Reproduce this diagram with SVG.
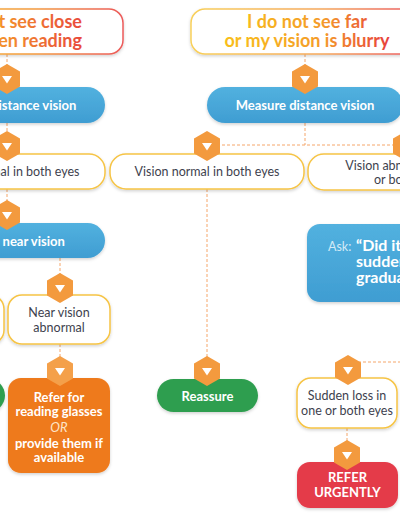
<svg xmlns="http://www.w3.org/2000/svg" width="400" height="516" viewBox="0 0 400 516">
<defs>
  <filter id="sh" x="-20%" y="-20%" width="140%" height="150%">
    <feDropShadow dx="0" dy="1.5" stdDeviation="1.5" flood-color="#000" flood-opacity="0.18"/>
  </filter>
  <linearGradient id="gL" gradientUnits="userSpaceOnUse" x1="-100" y1="0" x2="123" y2="0">
    <stop offset="0" stop-color="#f8c23a"/>
    <stop offset="0.6" stop-color="#f39a3e"/>
    <stop offset="1" stop-color="#ec5a5a"/>
  </linearGradient>
  <linearGradient id="gLt" gradientUnits="userSpaceOnUse" x1="-60" y1="0" x2="85" y2="0">
    <stop offset="0" stop-color="#f7b21e"/>
    <stop offset="0.5" stop-color="#f2892e"/>
    <stop offset="1" stop-color="#e8473c"/>
  </linearGradient>
  <linearGradient id="gR" gradientUnits="userSpaceOnUse" x1="191" y1="0" x2="410" y2="0">
    <stop offset="0" stop-color="#f8d05a"/>
    <stop offset="0.6" stop-color="#f5a65a"/>
    <stop offset="1" stop-color="#ec5f60"/>
  </linearGradient>
  <linearGradient id="gRt" gradientUnits="userSpaceOnUse" x1="235" y1="0" x2="395" y2="0">
    <stop offset="0" stop-color="#f8bd1c"/>
    <stop offset="0.55" stop-color="#f49a2a"/>
    <stop offset="1" stop-color="#e6383e"/>
  </linearGradient>
  <linearGradient id="gB" x1="0" y1="0" x2="0" y2="1">
    <stop offset="0" stop-color="#52b1df"/>
    <stop offset="1" stop-color="#3f9dd2"/>
  </linearGradient>
  <g id="hex">
    <polygon points="0,-15 13,-7.5 13,7.5 0,15 -13,7.5 -13,-7.5" fill="#f39a3e"/>
    <polygon points="-5,-3 5,-3 0,4.5" fill="#fff"/>
  </g>
  <g id="hexL">
    <polygon points="0,-15 13,-7.5 13,7.5 0,15 -13,7.5 -13,-7.5" fill="#f4a04a"/>
    <polygon points="-5,-3 5,-3 0,4.5" fill="#fff"/>
  </g>
</defs>
<style>
  .t { font-family: "Lato", "Open Sans", "Liberation Sans", sans-serif; }
  .q { fill: #fff; stroke: #f6c445; stroke-width: 1.5; }
  .qt { fill: #3e3f4e; font-size: 12.5px; text-anchor: middle; }
  .wt { fill: #fff; font-weight: 700; text-anchor: middle; }
  .blue { fill: url(#gB); }
  .big { font-size: 18px; font-weight: 700; }
  .dash { stroke: #f5a66a; stroke-width: 1; stroke-dasharray: 3 2; fill: none; }
</style>

<g id="connectors">
  <path class="dash" d="M7,54 V66 M7,123 V132 M7,189 V201"/>
  <path class="dash" d="M60,258 V274 M60,344 V357"/>
  <path class="dash" d="M305,54 V66 M305,123 V145 M207,145 H406"/>
  <path class="dash" d="M207,189 V357"/>
  <path class="dash" d="M348,362 H402"/>
  <path class="dash" d="M347,428 V441"/>
</g>

<g id="start-close" class="t">
  <rect x="-109" y="9" width="232" height="45" rx="14" fill="#fff" stroke="url(#gL)" stroke-width="1.5" filter="url(#sh)"/>
  <text class="big" text-anchor="end" fill="url(#gLt)"><tspan x="82" y="28">I do not see close</tspan><tspan x="82" y="47">or when reading</tspan></text>
</g>

<g id="start-far" class="t">
  <rect x="191" y="9" width="232" height="45" rx="14" fill="#fff" stroke="url(#gR)" stroke-width="1.5" filter="url(#sh)"/>
  <text class="big" text-anchor="middle" fill="url(#gRt)"><tspan x="307" y="28">I do not see far</tspan><tspan x="307" y="47">or my vision is blurry</tspan></text>
</g>

<g id="measure-distance-left" class="t">
  <rect class="blue" x="-91" y="87" width="196" height="36" rx="18" filter="url(#sh)"/>
  <text class="wt" x="7" y="110" font-size="13">Measure distance vision</text>
  <use href="#hex" x="7" y="79"/>
</g>

<g id="measure-distance-right" class="t">
  <rect class="blue" x="207" y="87" width="196" height="36" rx="18" filter="url(#sh)"/>
  <text class="wt" x="305" y="110" font-size="13">Measure distance vision</text>
  <use href="#hex" x="305" y="79"/>
</g>

<g id="normal-left" class="t">
  <rect class="q" x="-91" y="154" width="196" height="35" rx="16" filter="url(#sh)"/>
  <text class="qt" x="7" y="176">Vision normal in both eyes</text>
  <use href="#hex" x="7" y="146"/>
</g>

<g id="normal-mid" class="t">
  <rect class="q" x="110" y="154" width="194" height="35" rx="16" filter="url(#sh)"/>
  <text class="qt" x="207" y="176">Vision normal in both eyes</text>
  <use href="#hex" x="207" y="146"/>
</g>

<g id="abnormal-right" class="t">
  <rect class="q" x="308" y="154" width="200" height="36" rx="16" filter="url(#sh)"/>
  <text class="qt"><tspan x="408" y="170">Vision abnormal in one</tspan><tspan x="408" y="184">or both eyes</tspan></text>
  <use href="#hex" x="406" y="146"/>
</g>

<g id="measure-near" class="t">
  <rect class="blue" x="-91" y="223" width="196" height="35" rx="17.5" filter="url(#sh)"/>
  <text class="wt" x="7" y="245.5" font-size="13">Measure near vision</text>
  <use href="#hex" x="7" y="215"/>
</g>

<g id="near-normal">
  <rect class="q" x="-96" y="295" width="100" height="49" rx="14" filter="url(#sh)"/>
</g>

<g id="near-abnormal" class="t">
  <rect class="q" x="8" y="295" width="102" height="49" rx="14" filter="url(#sh)"/>
  <text class="qt"><tspan x="59" y="317">Near vision</tspan><tspan x="59" y="332">abnormal</tspan></text>
  <use href="#hex" x="60" y="288"/>
</g>

<g id="ask" class="t">
  <rect class="blue" x="307" y="224" width="200" height="78" rx="13" filter="url(#sh)"/>
  <text x="328" y="251" font-size="12.5" fill="#d3eaf7">Ask:</text>
  <text font-size="16" font-weight="700" fill="#fff"><tspan x="356" y="251">“Did it happen</tspan><tspan x="356" y="267">suddenly or</tspan><tspan x="356" y="283">gradually?”</tspan></text>
</g>

<g id="reassure-left">
  <rect x="-95" y="379" width="100" height="33" rx="16.5" fill="#2f9e4f" filter="url(#sh)"/>
</g>

<g id="refer-glasses" class="t">
  <rect x="8" y="378" width="102" height="95" rx="13" fill="#ee7a1b" filter="url(#sh)"/>
  <text class="wt" font-size="13"><tspan x="59" y="402">Refer for</tspan><tspan x="59" y="416">reading glasses</tspan><tspan x="59" y="432" font-style="italic" font-weight="400" fill="#fde3c6">OR</tspan><tspan x="59" y="448">provide them if</tspan><tspan x="59" y="462">available</tspan></text>
  <use href="#hexL" x="60" y="371"/>
</g>

<g id="reassure" class="t">
  <rect x="157" y="379" width="101" height="33" rx="16.5" fill="#2f9e4f" filter="url(#sh)"/>
  <text class="wt" x="207.5" y="401" font-size="13">Reassure</text>
  <use href="#hex" x="207" y="371"/>
</g>

<g id="sudden" class="t">
  <rect class="q" x="297" y="378" width="100" height="50" rx="14" filter="url(#sh)"/>
  <text class="qt"><tspan x="347" y="400">Sudden loss in</tspan><tspan x="347" y="415">one or both eyes</tspan></text>
  <use href="#hex" x="348" y="370"/>
</g>

<g id="refer-urgently" class="t">
  <rect x="297" y="462" width="101" height="46" rx="13" fill="#e43b4a" filter="url(#sh)"/>
  <text class="wt" font-size="13"><tspan x="347.5" y="482">REFER</tspan><tspan x="347.5" y="497">URGENTLY</tspan></text>
  <use href="#hex" x="347" y="455"/>
</g>
</svg>
